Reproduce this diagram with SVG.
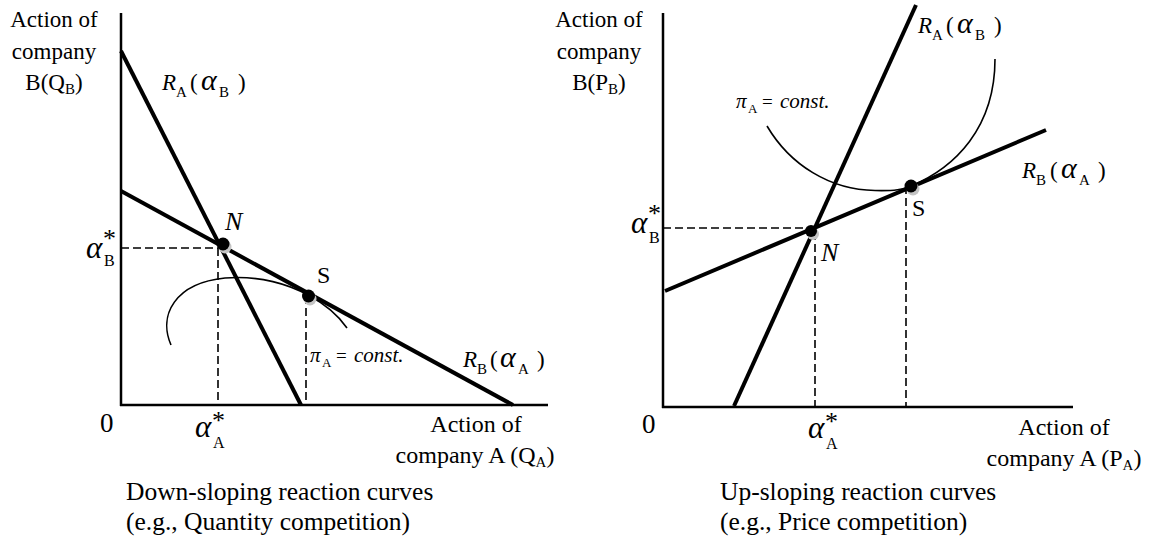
<svg xmlns="http://www.w3.org/2000/svg" width="1163" height="539" viewBox="0 0 1163 539">
<style>
text{font-family:"Liberation Serif","Times New Roman",serif;fill:#000}
.lab{font-size:23px}
.ax2{font-size:24px}
.cap{font-size:25.5px}
.it{font-style:italic}
.big{font-size:23px}
.al{font-size:30px;font-style:italic}
.sub{font-size:15px}
.axis{stroke:#000;stroke-width:2.5;fill:none}
.rc{stroke:#000;stroke-width:4;fill:none}
.dash{stroke:#000;stroke-width:1.6;stroke-dasharray:8 4;fill:none}
.iso{stroke:#000;stroke-width:1.6;fill:none}
.dot{fill:#000}
.shadow{fill:#c4c4c4}
</style>
<rect width="1163" height="539" fill="#fff"/>

<!-- LEFT PANEL -->
<g id="left-axes">
  <line class="axis" x1="121" y1="13" x2="121" y2="406"/>
  <line class="axis" x1="120" y1="405" x2="548" y2="405"/>
  <text class="lab" x="54" y="27" text-anchor="middle">Action of</text>
  <text class="lab" x="54" y="59" text-anchor="middle">company</text>
  <text class="lab" x="54" y="90" text-anchor="middle">B(Q<tspan class="sub" dy="4">B</tspan><tspan dy="-4">)</tspan></text>
  <text x="100" y="432" font-size="27">0</text>
  <text class="ax2" x="476" y="432" text-anchor="middle">Action of</text>
  <text class="ax2" x="475" y="463" text-anchor="middle">company A (Q<tspan class="sub" dy="4">A</tspan><tspan dy="-4">)</tspan></text>
  <text class="cap" x="126" y="500">Down-sloping reaction curves</text>
  <text class="cap" x="126" y="530">(e.g., Quantity competition)</text>
</g>

<g id="left-connectors">
  <line class="rc" x1="121" y1="51" x2="301" y2="405"/>
  <line class="rc" x1="121" y1="191" x2="513" y2="405"/>
  <line class="dash" x1="121" y1="248" x2="219" y2="248"/>
  <line class="dash" x1="218" y1="248" x2="218" y2="405"/>
  <line class="dash" x1="306" y1="296" x2="306" y2="405"/>
  <path class="iso" d="M171,345 C158,315 175,283 225,278 C260,275 290,285 308,295 C325,304 338,315 347,328"/>
</g>

<g id="left-labels">
  <text y="90"><tspan class="it big" x="162">R</tspan><tspan class="sub" x="176" y="97">A</tspan><tspan class="big" x="190" y="90">(</tspan><tspan class="al" x="201" y="90">α</tspan><tspan class="sub" x="219" y="97">B</tspan><tspan class="big" x="238" y="90">)</tspan></text>
  <text y="367"><tspan class="it big" x="463">R</tspan><tspan class="sub" x="477" y="374">B</tspan><tspan class="big" x="490" y="367">(</tspan><tspan class="al" x="500" y="367">α</tspan><tspan class="sub" x="518" y="374">A</tspan><tspan class="big" x="537" y="367">)</tspan></text>
  <text y="362"><tspan class="it" font-size="21" x="310">π</tspan><tspan font-size="13" x="322" y="367">A</tspan><tspan font-size="19" x="336" y="362">=</tspan><tspan class="it" font-size="21" x="354" y="362">const.</tspan></text>
  <text y="258"><tspan class="it" font-size="31" x="86">α</tspan><tspan font-size="26" x="103" y="247">*</tspan><tspan font-size="16" x="104" y="266">B</tspan></text>
  <text y="437"><tspan class="it" font-size="31" x="195">α</tspan><tspan font-size="26" x="212" y="429">*</tspan><tspan font-size="16" x="213" y="448">A</tspan></text>
</g>

<g id="node-N-left">
  <circle class="shadow" cx="225" cy="247" r="6.5"/>
  <circle class="dot" cx="223" cy="244" r="6.5"/>
  <text class="it" font-size="26" x="225" y="230">N</text>
</g>
<g id="node-S-left">
  <circle class="shadow" cx="310" cy="299" r="6.5"/>
  <circle class="dot" cx="308.5" cy="296" r="6.5"/>
  <text font-size="24" x="317" y="283">S</text>
</g>

<!-- RIGHT PANEL -->
<g id="right-axes">
  <line class="axis" x1="663" y1="13" x2="663" y2="408"/>
  <line class="axis" x1="662" y1="407" x2="1073" y2="407"/>
  <text class="lab" x="599" y="27" text-anchor="middle">Action of</text>
  <text class="lab" x="599" y="59" text-anchor="middle">company</text>
  <text class="lab" x="599" y="90" text-anchor="middle">B(P<tspan class="sub" dy="4">B</tspan><tspan dy="-4">)</tspan></text>
  <text x="642" y="433" font-size="27">0</text>
  <text class="ax2" x="1064" y="435" text-anchor="middle">Action of</text>
  <text class="ax2" x="1064" y="466" text-anchor="middle">company A (P<tspan class="sub" dy="4">A</tspan><tspan dy="-4">)</tspan></text>
  <text class="cap" x="720" y="500">Up-sloping reaction curves</text>
  <text class="cap" x="720" y="530">(e.g., Price competition)</text>
</g>

<g id="right-connectors">
  <line class="rc" x1="734" y1="406" x2="916" y2="5"/>
  <line class="rc" x1="665" y1="291" x2="1046" y2="130"/>
  <line class="dash" x1="663" y1="228" x2="811" y2="228"/>
  <line class="dash" x1="815" y1="232" x2="815" y2="407"/>
  <line class="dash" x1="906" y1="186" x2="906" y2="407"/>
  <path class="iso" d="M767,126 C790,165 830,190 875,190.5 C895,191 903,189.4 911,186 C955,167.5 995,128 995,59"/>
</g>

<g id="right-labels">
  <text y="33"><tspan class="it big" x="918">R</tspan><tspan class="sub" x="932" y="40">A</tspan><tspan class="big" x="946" y="33">(</tspan><tspan class="al" x="957" y="33">α</tspan><tspan class="sub" x="975" y="40">B</tspan><tspan class="big" x="994" y="33">)</tspan></text>
  <text y="178"><tspan class="it big" x="1022">R</tspan><tspan class="sub" x="1036" y="185">B</tspan><tspan class="big" x="1050" y="178">(</tspan><tspan class="al" x="1061" y="178">α</tspan><tspan class="sub" x="1079" y="185">A</tspan><tspan class="big" x="1098" y="178">)</tspan></text>
  <text y="108"><tspan class="it" font-size="21" x="736">π</tspan><tspan font-size="13" x="748" y="113">A</tspan><tspan font-size="19" x="762" y="108">=</tspan><tspan class="it" font-size="21" x="780" y="108">const.</tspan></text>
  <text y="233"><tspan class="it" font-size="31" x="631">α</tspan><tspan font-size="26" x="648" y="222">*</tspan><tspan font-size="16" x="649" y="243">B</tspan></text>
  <text y="438"><tspan class="it" font-size="31" x="808">α</tspan><tspan font-size="26" x="825" y="430">*</tspan><tspan font-size="16" x="826" y="449">A</tspan></text>
</g>

<g id="node-N-right">
  <circle class="shadow" cx="813" cy="234" r="6"/>
  <circle class="dot" cx="811" cy="231" r="6"/>
  <text class="it" font-size="26" x="821" y="261">N</text>
</g>
<g id="node-S-right">
  <circle class="shadow" cx="913" cy="189" r="6.5"/>
  <circle class="dot" cx="911" cy="186" r="6.5"/>
  <text font-size="24" x="912" y="216">S</text>
</g>
</svg>
